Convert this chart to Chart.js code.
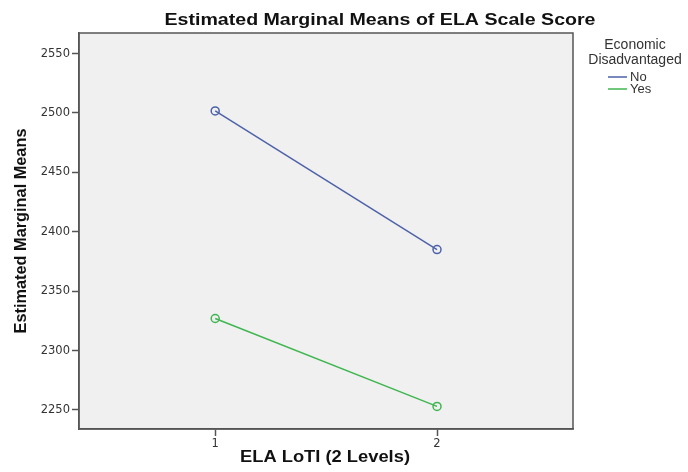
<!DOCTYPE html>
<html>
<head>
<meta charset="utf-8">
<script src="https://cdn.jsdelivr.net/npm/chart.js@4/dist/chart.umd.min.js"></script>
<style>
	html, body { margin: 0; padding: 0; background: #fff; }
	#emmChart { display: block; }
</style>
</head>
<body>
<canvas id="emmChart" width="688" height="472"></canvas>
<script>
// ELA LoTI levels on the x axis
const levels = [1, 2];
// Estimated marginal means
const noValues = [2501.7, 2385];
const yesValues = [2327, 2253];
const seriesLabels = ["No", "Yes"];
const seriesColors = ["#4d62a8", "#3fb650"];
const yTicks = [2250, 2300, 2350, 2400, 2450, 2500, 2550];
const xTicks = [1, 2];

const chartTitle = "Estimated Marginal Means of ELA Scale Score";
const xTitle = "ELA LoTI (2 Levels)";
const yTitle = "Estimated Marginal Means";
const legendTitle = ["Economic", "Disadvantaged"];

function toPoints(values) {
	return levels.map((x, i) => ({ x: x, y: values[i] }));
}

// draws text squeezed/stretched horizontally to a target width
function fitText(ctx, text, x, y, width) {
	const w = ctx.measureText(text).width;
	ctx.save();
	ctx.translate(x, y);
	ctx.scale(width / w, 1);
	ctx.fillText(text, 0, 0);
	ctx.restore();
}

const spssFrame = {
	id: "spssFrame",
	beforeDraw(chart) {
		const { ctx, chartArea: a } = chart;
		ctx.save();
		ctx.fillStyle = "#f0f0f0";
		ctx.fillRect(a.left, a.top, a.right - a.left, a.bottom - a.top);
		ctx.restore();
	},
	afterDraw(chart) {
		const { ctx, chartArea: a } = chart;
		ctx.save();
		ctx.strokeStyle = "#555";
		ctx.lineWidth = 1.5;
		ctx.strokeRect(a.left, a.top, a.right - a.left, a.bottom - a.top);

		// titles
		ctx.fillStyle = "#111";
		ctx.textAlign = "center";
		ctx.textBaseline = "alphabetic";
		ctx.font = "bold 17px 'Liberation Sans', Arial, sans-serif";
		fitText(ctx, chartTitle, 380, 25, 431);
		ctx.font = "bold 16.5px 'Liberation Sans', Arial, sans-serif";
		fitText(ctx, xTitle, 325, 462, 170);

		ctx.save();
		ctx.translate(21, (a.top + a.bottom) / 2);
		ctx.rotate(-Math.PI / 2);
		ctx.textBaseline = "middle";
		ctx.font = "bold 17px 'Liberation Sans Narrow', 'Arial Narrow', sans-serif";
		fitText(ctx, yTitle, 0, 0, 205);
		ctx.restore();

		// legend
		ctx.fillStyle = "#333";
		ctx.font = "14px 'Liberation Sans', Arial, sans-serif";
		ctx.textBaseline = "middle";
		ctx.fillText(legendTitle[0], 635, 45);
		ctx.fillText(legendTitle[1], 635, 60);
		ctx.textAlign = "left";
		ctx.font = "13px 'Liberation Sans', Arial, sans-serif";
		chart.data.datasets.forEach((ds, i) => {
			const y = 77 + i * 12;
			ctx.strokeStyle = ds.borderColor;
			ctx.lineWidth = 1.5;
			ctx.beginPath();
			ctx.moveTo(608, y);
			ctx.lineTo(627, y);
			ctx.stroke();
			ctx.fillText(ds.label, 630, y);
		});
		ctx.restore();
	},
};

const tickFont = { family: "'DejaVu Sans', sans-serif", size: 11.5 };

new Chart(document.getElementById("emmChart"), {
	type: "line",
	data: {
		datasets: [
			{ label: seriesLabels[0], data: toPoints(noValues) },
			{ label: seriesLabels[1], data: toPoints(yesValues) },
		].map((ds, i) => Object.assign(ds, {
			borderColor: seriesColors[i],
			backgroundColor: "rgba(0,0,0,0)",
			borderWidth: 1.5,
			pointRadius: 4,
			pointBorderWidth: 1.5,
			pointBackgroundColor: "rgba(0,0,0,0)",
			pointBorderColor: seriesColors[i],
			tension: 0,
		})),
	},
	options: {
		responsive: false,
		animation: false,
		layout: { padding: { left: 0, top: 33, right: 115, bottom: 0 } },
		scales: {
			x: {
				type: "linear",
				min: 0.386,
				max: 2.613,
				afterBuildTicks: (s) => { s.ticks = xTicks.map((v) => ({ value: v })); },
				afterFit: (s) => { s.height = 43; },
				ticks: { color: "#333", font: tickFont, padding: 1, autoSkip: false, callback: (v) => String(v) },
				grid: { drawOnChartArea: false, drawTicks: true, tickLength: 7, tickColor: "#555", tickWidth: 1.5 },
				border: { color: "#555", width: 1.5 },
			},
			y: {
				min: 2234,
				max: 2567.3,
				afterBuildTicks: (s) => { s.ticks = yTicks.map((v) => ({ value: v })); },
				afterFit: (s) => { s.width = 79; },
				ticks: { color: "#333", font: tickFont, padding: 2, callback: (v) => String(v) },
				grid: { drawOnChartArea: false, drawTicks: true, tickLength: 7, tickColor: "#555", tickWidth: 1.5 },
				border: { color: "#555", width: 1.5 },
			},
		},
		plugins: {
			legend: { display: false },
			tooltip: { enabled: false },
		},
	},
	plugins: [spssFrame],
});
</script>
</body>
</html>
